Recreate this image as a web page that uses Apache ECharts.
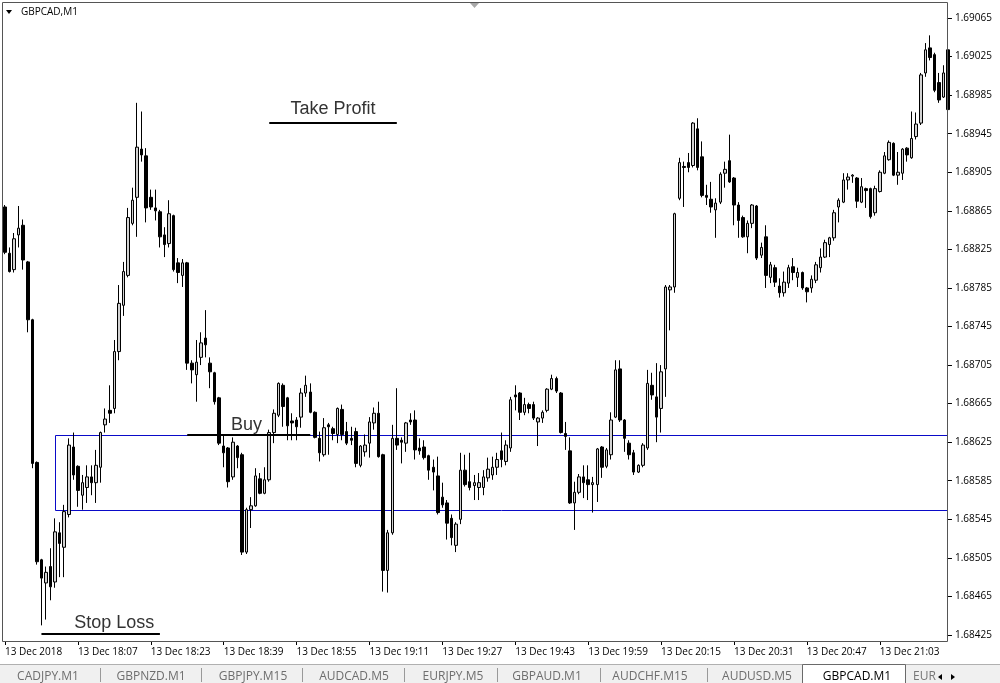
<!DOCTYPE html>
<html><head><meta charset="utf-8">
<script src="https://cdn.jsdelivr.net/npm/echarts@6/dist/echarts.min.js"></script>
<style>html,body{margin:0;padding:0;background:#fff}#c{width:1000px;height:683px}</style>
</head><body><div id="c"></div>
<script>
const openP = [
1.68869,1.68821,1.68804,1.68840,1.68850,1.68812,1.68752,1.68604,1.68503,1.68479,
1.68496,1.68480,1.68531,1.68516,1.68550,1.68620,1.68600,1.68570,1.68578,1.68589,
1.68583,1.68599,1.68643,1.68658,1.68660,1.68719,1.68767,1.68798,1.68852,1.68879,
1.68929,1.68922,1.68879,1.68868,1.68864,1.68840,1.68831,1.68860,1.68811,1.68798,
1.68811,1.68707,1.68695,1.68713,1.68733,1.68707,1.68697,1.68671,1.68621,1.68619,
1.68589,1.68621,1.68612,1.68511,1.68555,1.68559,1.68587,1.68572,1.68586,1.68635,
1.68653,1.68684,1.68671,1.68647,1.68648,1.68651,1.68676,1.68677,1.68656,1.68629,
1.68612,1.68643,1.68639,1.68633,1.68659,1.68636,1.68629,1.68636,1.68601,1.68615,
1.68624,1.68645,1.68655,1.68612,1.68492,1.68531,1.68629,1.68627,1.68624,1.68648,
1.68648,1.68619,1.68620,1.68611,1.68599,1.68590,1.68568,1.68562,1.68546,1.68518,
1.68545,1.68596,1.68584,1.68580,1.68578,1.68578,1.68588,1.68591,1.68599,1.68616,
1.68605,1.68619,1.68674,1.68676,1.68656,1.68664,1.68664,1.68646,1.68650,1.68658,
1.68680,1.68691,1.68676,1.68634,1.68616,1.68562,1.68573,1.68589,1.68586,1.68581,
1.68581,1.68620,1.68600,1.68612,1.68651,1.68701,1.68648,1.68624,1.68614,1.68594,
1.68601,1.68619,1.68684,1.68672,1.68660,1.68701,1.68783,1.68786,1.68878,1.68911,
1.68915,1.68912,1.68950,1.68921,1.68881,1.68877,1.68866,1.68874,1.68904,1.68917,
1.68899,1.68871,1.68858,1.68838,1.68852,1.68870,1.68819,1.68838,1.68796,1.68806,
1.68787,1.68780,1.68790,1.68807,1.68796,1.68801,1.68785,1.68785,1.68793,1.68806,
1.68817,1.68830,1.68837,1.68869,1.68874,1.68897,1.68901,1.68899,1.68874,1.68888,
1.68888,1.68863,1.68885,1.68904,1.68918,1.68935,1.68902,1.68904,1.68930,1.68920,
1.68942,1.68956,1.69008,1.69034,1.69027,1.68998,1.68983,1.69032];
const closeP = [
1.68822,1.68802,1.68836,1.68847,1.68814,1.68752,1.68603,1.68501,1.68484,1.68490,
1.68475,1.68532,1.68520,1.68553,1.68622,1.68591,1.68575,1.68583,1.68589,1.68583,
1.68601,1.68635,1.68649,1.68655,1.68719,1.68769,1.68802,1.68858,1.68876,1.68931,
1.68923,1.68868,1.68869,1.68865,1.68838,1.68830,1.68862,1.68804,1.68801,1.68811,
1.68707,1.68700,1.68708,1.68728,1.68726,1.68698,1.68667,1.68624,1.68614,1.68584,
1.68625,1.68609,1.68511,1.68555,1.68559,1.68590,1.68572,1.68586,1.68635,1.68655,
1.68686,1.68662,1.68642,1.68645,1.68641,1.68676,1.68684,1.68656,1.68630,1.68614,
1.68640,1.68641,1.68634,1.68660,1.68633,1.68624,1.68627,1.68603,1.68621,1.68622,
1.68646,1.68655,1.68610,1.68492,1.68531,1.68629,1.68622,1.68625,1.68645,1.68646,
1.68617,1.68616,1.68609,1.68596,1.68594,1.68552,1.68560,1.68541,1.68526,1.68540,
1.68596,1.68581,1.68578,1.68583,1.68583,1.68589,1.68597,1.68599,1.68607,1.68607,
1.68622,1.68669,1.68672,1.68656,1.68664,1.68660,1.68650,1.68650,1.68656,1.68680,
1.68691,1.68678,1.68635,1.68631,1.68562,1.68573,1.68589,1.68583,1.68581,1.68583,
1.68618,1.68599,1.68617,1.68648,1.68700,1.68648,1.68629,1.68612,1.68594,1.68601,
1.68622,1.68686,1.68674,1.68651,1.68698,1.68786,1.68786,1.68862,1.68915,1.68910,
1.68910,1.68956,1.68910,1.68881,1.68879,1.68869,1.68873,1.68903,1.68908,1.68895,
1.68871,1.68855,1.68838,1.68852,1.68871,1.68816,1.68827,1.68798,1.68809,1.68791,
1.68780,1.68791,1.68806,1.68801,1.68801,1.68785,1.68781,1.68794,1.68809,1.68817,
1.68832,1.68837,1.68863,1.68876,1.68897,1.68900,1.68902,1.68875,1.68890,1.68886,
1.68859,1.68888,1.68905,1.68922,1.68936,1.68902,1.68905,1.68929,1.68923,1.68940,
1.68955,1.69006,1.69032,1.69024,1.68990,1.68980,1.69008,1.68970];
const lowP = [
1.68820,1.68801,1.68801,1.68827,1.68804,1.68739,1.68598,1.68498,1.68435,1.68441,
1.68461,1.68474,1.68485,1.68485,1.68547,1.68586,1.68558,1.68555,1.68562,1.68570,
1.68562,1.68583,1.68635,1.68645,1.68655,1.68710,1.68756,1.68796,1.68850,1.68838,
1.68916,1.68853,1.68866,1.68855,1.68827,1.68817,1.68827,1.68802,1.68790,1.68786,
1.68700,1.68686,1.68667,1.68705,1.68713,1.68681,1.68664,1.68622,1.68599,1.68578,
1.68586,1.68598,1.68508,1.68509,1.68536,1.68558,1.68571,1.68571,1.68584,1.68624,
1.68651,1.68641,1.68627,1.68627,1.68627,1.68640,1.68672,1.68655,1.68629,1.68605,
1.68610,1.68612,1.68627,1.68624,1.68627,1.68622,1.68622,1.68599,1.68599,1.68610,
1.68609,1.68638,1.68609,1.68470,1.68469,1.68529,1.68617,1.68603,1.68615,1.68643,
1.68607,1.68612,1.68607,1.68586,1.68575,1.68550,1.68557,1.68524,1.68518,1.68511,
1.68540,1.68579,1.68575,1.68565,1.68565,1.68570,1.68584,1.68586,1.68591,1.68599,
1.68601,1.68615,1.68658,1.68648,1.68653,1.68655,1.68648,1.68621,1.68645,1.68656,
1.68679,1.68676,1.68634,1.68617,1.68561,1.68534,1.68571,1.68567,1.68565,1.68552,
1.68563,1.68588,1.68598,1.68607,1.68650,1.68646,1.68615,1.68607,1.68591,1.68593,
1.68599,1.68617,1.68669,1.68625,1.68635,1.68672,1.68741,1.68780,1.68876,1.68869,
1.68905,1.68910,1.68907,1.68879,1.68871,1.68863,1.68837,1.68872,1.68889,1.68894,
1.68850,1.68837,1.68837,1.68821,1.68847,1.68814,1.68816,1.68785,1.68790,1.68786,
1.68775,1.68776,1.68785,1.68793,1.68786,1.68783,1.68770,1.68780,1.68790,1.68801,
1.68816,1.68817,1.68834,1.68853,1.68873,1.68887,1.68894,1.68868,1.68873,1.68868,
1.68857,1.68860,1.68884,1.68903,1.68917,1.68901,1.68892,1.68897,1.68916,1.68919,
1.68939,1.68954,1.69004,1.69021,1.68988,1.68977,1.68982,1.68968];
const highP = [
1.68871,1.68827,1.68842,1.68870,1.68856,1.68813,1.68753,1.68605,1.68504,1.68496,
1.68515,1.68546,1.68542,1.68560,1.68629,1.68635,1.68601,1.68591,1.68601,1.68601,
1.68617,1.68636,1.68660,1.68684,1.68731,1.68788,1.68812,1.68868,1.68889,1.68977,
1.68968,1.68930,1.68887,1.68887,1.68866,1.68848,1.68876,1.68861,1.68816,1.68815,
1.68812,1.68710,1.68731,1.68739,1.68762,1.68713,1.68698,1.68672,1.68633,1.68620,
1.68630,1.68622,1.68614,1.68557,1.68568,1.68598,1.68593,1.68599,1.68638,1.68659,
1.68687,1.68686,1.68672,1.68655,1.68651,1.68681,1.68694,1.68686,1.68657,1.68636,
1.68650,1.68645,1.68641,1.68661,1.68664,1.68646,1.68641,1.68640,1.68622,1.68633,
1.68651,1.68661,1.68667,1.68613,1.68534,1.68643,1.68681,1.68630,1.68646,1.68655,
1.68658,1.68629,1.68627,1.68612,1.68607,1.68610,1.68583,1.68565,1.68550,1.68542,
1.68614,1.68612,1.68614,1.68591,1.68593,1.68596,1.68609,1.68610,1.68614,1.68635,
1.68627,1.68672,1.68684,1.68677,1.68671,1.68666,1.68667,1.68651,1.68658,1.68681,
1.68695,1.68693,1.68677,1.68646,1.68630,1.68584,1.68592,1.68601,1.68601,1.68589,
1.68619,1.68621,1.68619,1.68656,1.68710,1.68710,1.68649,1.68627,1.68617,1.68602,
1.68624,1.68700,1.68697,1.68707,1.68705,1.68788,1.68788,1.68863,1.68920,1.68916,
1.68925,1.68957,1.68961,1.68937,1.68892,1.68895,1.68878,1.68905,1.68916,1.68944,
1.68900,1.68874,1.68860,1.68855,1.68872,1.68871,1.68832,1.68850,1.68812,1.68809,
1.68795,1.68802,1.68809,1.68816,1.68806,1.68802,1.68786,1.68798,1.68812,1.68826,
1.68835,1.68838,1.68866,1.68878,1.68904,1.68904,1.68903,1.68900,1.68899,1.68889,
1.68889,1.68891,1.68907,1.68926,1.68938,1.68936,1.68926,1.68930,1.68931,1.68968,
1.68967,1.69008,1.69039,1.69047,1.69029,1.69008,1.69016,1.69034];

const startMinute = 17 * 60 + 51;           // first bar 13 Dec 2018 17:51, M1 bars
const tickEvery = 16;
const xTickLabels = ['13 Dec 2018','13 Dec 18:07','13 Dec 18:23','13 Dec 18:39','13 Dec 18:55',
  '13 Dec 19:11','13 Dec 19:27','13 Dec 19:43','13 Dec 19:59','13 Dec 20:15','13 Dec 20:31',
  '13 Dec 20:47','13 Dec 21:03'];
const yMin = 1.68425, yMax = 1.69065, yStep = 0.0004;
const boxStart = 11, boxTop = 1.686319, boxBottom = 1.685541;
const takeProfit = 1.68956, buyPrice = 1.68633, stopLoss = 1.68426;
const tabNames = ['CADJPY.M1','GBPNZD.M1','GBPJPY.M15','AUDCAD.M5','EURJPY.M5','GBPAUD.M1','AUDCHF.M15','AUDUSD.M5'];
const tabCenters = [48,151,253,354,453,547,650,757];
const tabSeps = [100,201,302,404,497,600,707];

const categories = openP.map((_, i) => {
  const m = startMinute + i;
  return String(Math.floor(m / 60)).padStart(2, '0') + ':' + String(m % 60).padStart(2, '0');
});
const ohlc = openP.map((o, i) => [o, closeP[i], lowP[i], highP[i]]);
const N = categories.length;
const band = 4.556, gridLeft = 2.72;
const gridRight = 1000 - (gridLeft + N * band);

const chart = echarts.init(document.getElementById('c'), null, {renderer: 'canvas'});
const FONT = 'Open Sans';
const tickFn = (idx) => idx % tickEvery === 0;
const TY = 677;
const BLUE = '#0a0ac8';
const blackStyle = {color: '#000', width: 2, type: 'solid'};

chart.setOption({
  animation: false,
  backgroundColor: '#fff',
  grid: {left: gridLeft, right: gridRight, top: 18, bottom: 48, containLabel: false, outerBoundsMode: 'none'},
  xAxis: {
    type: 'category', data: categories, boundaryGap: true, offset: 6,
    axisLine: {show: false},
    axisTick: {show: true, alignWithLabel: true, interval: tickFn, length: 4, lineStyle: {color: '#000'}},
    axisLabel: {interval: tickFn, align: 'left', margin: 6, fontSize: 10, fontFamily: FONT, color: '#000',
      formatter: (v, i) => xTickLabels[Math.round(i / tickEvery)] || ''},
    splitLine: {show: false}
  },
  yAxis: {
    type: 'value', position: 'right', min: yMin, max: yMax, interval: yStep, offset: -3.4,
    axisLine: {show: false},
    axisTick: {show: true, length: 5, lineStyle: {color: '#000'}},
    axisLabel: {margin: 8, fontSize: 10, fontFamily: FONT, color: '#000', padding: [4, 0, 0, 0],
      formatter: (v) => v.toFixed(5)},
    splitLine: {show: false}
  },
  series: [{
    type: 'candlestick',
    data: ohlc,
    barWidth: 3,
    z: 3,
    itemStyle: {color: '#d2d2d2', color0: '#000000', borderColor: '#000000', borderColor0: '#000000', borderWidth: 1},
    emphasis: {disabled: true},
    markLine: {
      silent: true, symbol: ['none', 'none'],
      label: {show: false},
      emphasis: {disabled: true},
      lineStyle: blackStyle,
      data: [
        [{coord: [58, takeProfit]}, {coord: [86, takeProfit]}],
        [{coord: [40, buyPrice]}, {coord: [67, buyPrice]}],
        [{coord: [8, stopLoss]}, {coord: [34, stopLoss]}]
      ]
    },
    markPoint: {
      silent: true, symbol: 'circle', symbolSize: 0,
      label: {show: true, position: 'inside', fontFamily: 'Liberation Sans', fontSize: 18, color: '#333'},
      data: [
        {coord: [72, 1.68971], value: 'Take Profit', label: {formatter: 'Take Profit'}},
        {coord: [53, 1.68643], value: 'Buy', label: {formatter: 'Buy'}},
        {coord: [24, 1.68437], value: 'Stop Loss', label: {formatter: 'Stop Loss'}}
      ]
    }
  }]
});

// box placed through the chart's own scales
const pA = chart.convertToPixel({gridIndex: 0}, [categories[boxStart], boxTop]);
const pB = chart.convertToPixel({gridIndex: 0}, [categories[N - 1], boxBottom]);
const bx1 = Math.floor(pA[0]) + 0.5, by1 = Math.floor(pA[1]) + 0.5;
const bx2 = Math.min(Math.floor(pB[0]) + 0.5, 947.5), by2 = Math.floor(pB[1]) + 0.5;

const graphics = [
  {type:'rect', shape:{x:bx1,y:by1,width:bx2-bx1,height:by2-by1}, style:{fill:'none',stroke:BLUE,lineWidth:1}, silent:true, z:1},
  {type:'rect', shape:{x:2.5,y:2.5,width:945,height:639}, style:{fill:'none',stroke:'#555',lineWidth:1}, silent:true, z:100},
  {type:'polygon', shape:{points:[[470,3],[479,3],[474.5,8]]}, style:{fill:'#a8a8a8'}, silent:true, z:100},
  {type:'polygon', shape:{points:[[6,10],[12,10],[9,14]]}, style:{fill:'#000'}, silent:true, z:100},
  {type:'text', x:21, y:12, style:{text:'GBPCAD,M1', fontFamily:FONT, fontSize:10, fill:'#000', verticalAlign:'middle'}, silent:true, z:100},
  {type:'rect', shape:{x:0,y:664,width:1000,height:19}, style:{fill:'#f0f0f0'}, silent:true, z:100},
  {type:'line', shape:{x1:0,y1:664.5,x2:1000,y2:664.5}, style:{stroke:'#b0b0b0',lineWidth:1}, silent:true, z:100},
  {type:'rect', shape:{x:802.5,y:664.5,width:103,height:20}, style:{fill:'#fff',stroke:'#6a6a6a',lineWidth:1}, silent:true, z:101},
  {type:'text', x:857, y:TY, style:{text:'GBPCAD.M1', fontFamily:FONT, fontSize:12, fill:'#000', align:'center', verticalAlign:'middle'}, silent:true, z:102},
  {type:'text', x:913, y:TY, style:{text:'EURAUD.M5', fontFamily:FONT, fontSize:12, fill:'#777', align:'left', verticalAlign:'middle'}, silent:true, z:101},
  {type:'rect', shape:{x:936,y:665,width:64,height:18}, style:{fill:'#f0f0f0'}, silent:true, z:102},
  {type:'polygon', shape:{points:[[938,TY],[942,TY-3],[942,TY+3]]}, style:{fill:'#000'}, silent:true, z:103},
  {type:'polygon', shape:{points:[[955,TY],[951,TY-3],[951,TY+3]]}, style:{fill:'#000'}, silent:true, z:103}
];
tabNames.forEach((t, k) => {
  graphics.push({type:'text', x:tabCenters[k], y:TY, style:{text:t, fontFamily:FONT, fontSize:12, fill:'#6e6e6e', align:'center', verticalAlign:'middle'}, silent:true, z:101});
});
tabSeps.forEach((x) => {
  graphics.push({type:'line', shape:{x1:x+0.5,y1:668,x2:x+0.5,y2:682}, style:{stroke:'#999',lineWidth:1}, silent:true, z:101});
});
chart.setOption({graphic: graphics});
</script></body></html>
